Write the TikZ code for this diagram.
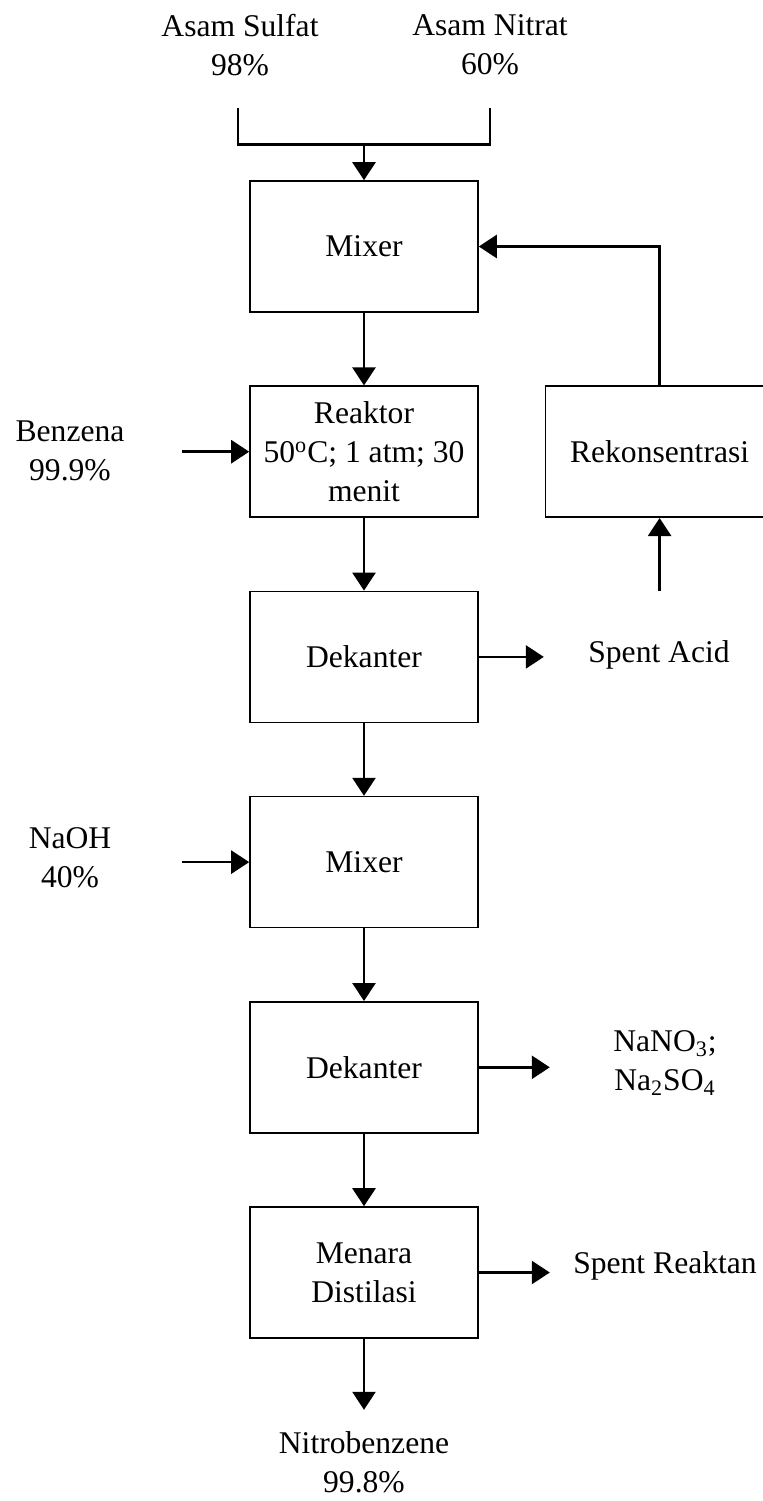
\documentclass[tikz,border=0pt]{standalone}
\usepackage{fontspec}
\setmainfont{Liberation Serif}
\usetikzlibrary{arrows.meta,positioning}

\tikzset{
  unit/.style={draw,line width=0.8pt,minimum width=114pt,minimum height=65.5pt,align=center,inner sep=2pt},
  stream/.style={align=center,inner sep=0pt},
  flow/.style={line width=1.3pt,-{Triangle[length=9pt,width=11.5pt]}},
  pipe/.style={line width=1.3pt},
}

\begin{document}
\begin{tikzpicture}[x=0.5pt,y=-0.5pt,font=\fontsize{15.8}{19.5}\selectfont,node distance=36.3pt]
    \useasboundingbox (0,0) rectangle (763,1501);
    % process units
    \node[unit] (mix1) at (364,246.5) {Mixer};
    \node[unit,below=of mix1] (reak) {Reaktor\\50\textsuperscript{o}C; 1 atm; 30\\menit};
    \node[unit,below=of reak] (dek1) {Dekanter};
    \node[unit,below=of dek1] (mix2) {Mixer};
    \node[unit,below=of mix2] (dek2) {Dekanter};
    \node[unit,below=of dek2] (dist) {Menara\\Distilasi};
    \node[unit,right=33pt of reak] (rekon) {Rekonsentrasi};
    % streams
    \node[stream] (sulf) at (240,45) {Asam Sulfat\\98\%};
    \node[stream] (nitr) at (490,45) {Asam Nitrat\\60\%};
    \node[stream] (benz) at (70,451) {Benzena\\99.9\%};
    \node[stream] (naoh) at (70,858) {NaOH\\40\%};
    \node[stream] (acid) at (659,655) {Spent Acid};
    \node[stream] (salt) at (665,1063) {NaNO\textsubscript{3};\\Na\textsubscript{2}SO\textsubscript{4}};
    \node[stream] (sprk) at (665,1266) {Spent Reaktan};
    \node[stream] (nitro) at (364,1462) {Nitrobenzene\\99.8\%};
    % free ends
    \coordinate (s1) at (238,108);
    \coordinate (n1) at (490,108);
    \coordinate[above=18pt of mix1.north] (join);
    \coordinate[left=33.5pt of reak.west] (benin);
    \coordinate[left=33.5pt of mix2.west] (naohin);
    \coordinate[right=32.5pt of dek1.east] (acidout);
    \coordinate[right=35.5pt of dek2.east] (saltout);
    \coordinate[right=35.5pt of dist.east] (sprkout);
    \coordinate[below=35.5pt of dist.south] (nitroout);
    \coordinate[below=36.5pt of rekon.south] (recyin);
    % connectors
    \draw[pipe] (s1) |- (n1 |- join) -- (n1);
    \draw[flow] (join) -- (mix1.north);
    \draw[flow] (mix1) -- (reak);
    \draw[flow] (reak) -- (dek1);
    \draw[flow] (dek1) -- (mix2);
    \draw[flow] (mix2) -- (dek2);
    \draw[flow] (dek2) -- (dist);
    \draw[flow] (dist) -- (nitroout);
    \draw[flow] (benin) -- (reak.west);
    \draw[flow] (naohin) -- (mix2.west);
    \draw[flow] (dek1.east) -- (acidout);
    \draw[flow] (dek2.east) -- (saltout);
    \draw[flow] (dist.east) -- (sprkout);
    \draw[flow] (recyin) -- (rekon.south);
    \draw[flow] (rekon.north) |- (mix1.east);
\end{tikzpicture}
\end{document}
